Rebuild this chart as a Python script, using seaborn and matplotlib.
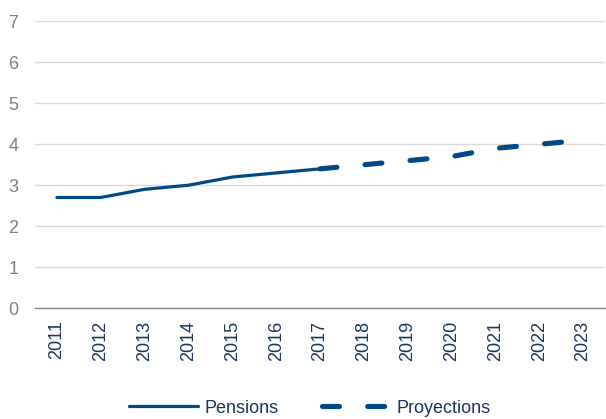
import matplotlib
matplotlib.use("Agg")
import matplotlib.pyplot as plt
import seaborn as sns
import numpy as np
import pandas as pd

years = ["2011", "2012", "2013", "2014", "2015", "2016", "2017",
         "2018", "2019", "2020", "2021", "2022", "2023"]
pensions = [2.7, 2.7, 2.9, 3.0, 3.2, 3.3, 3.4, None, None, None, None, None, None]
projections = [None, None, None, None, None, None, 3.4, 3.5, 3.6, 3.7, 3.9, 4.0, 4.1]
y_ticks = [0, 1, 2, 3, 4, 5, 6, 7]

sns.set_theme(style="white")
plt.rcParams['font.family'] = ['Liberation Sans', 'DejaVu Sans']

df = pd.DataFrame({
    "pos": np.arange(len(years)),
    "Pensions": pd.array(pensions, dtype="Float64").astype(float),
    "Proyections": pd.array(projections, dtype="Float64").astype(float),
})

line_color = "#004987"
navy = "#1B3560"
gray = "#808080"

fig = plt.figure(figsize=(6.06, 4.19), dpi=100)
ax = fig.add_axes([35/606, 1 - 308/419, 570/606, (308 - 21.5)/419])

sns.lineplot(data=df, x="pos", y="Pensions", ax=ax, color=line_color,
             linewidth=2.3, label="Pensions", solid_capstyle="round")
sns.lineplot(data=df, x="pos", y="Proyections", ax=ax, color=line_color,
             linewidth=3.7, label="Proyections", linestyle=(0, (3.3, 5.5)),
             dash_capstyle="round")

ax.set_xlim(-0.5, len(years) - 0.5)
ax.set_ylim(0, 7)
ax.set_yticks(y_ticks)
ax.set_yticklabels([str(t) for t in y_ticks], color=gray, fontsize=13)
ax.tick_params(axis="y", length=0, pad=12)

ax.set_xticks(np.arange(len(years) + 1) - 0.5)
ax.set_xticklabels([])
ax.tick_params(axis="x", which="major", length=4, width=0.8, color="#868686", direction="out")
ax.set_xticks(np.arange(len(years)), minor=True)
ax.set_xticklabels(years, minor=True, rotation=90, color=navy, fontsize=13)
ax.tick_params(axis="x", which="minor", length=0, pad=9)

ax.grid(axis="y", color="#D9D9D9", linewidth=1)
ax.set_axisbelow(True)
for s in ["top", "right", "left"]:
    ax.spines[s].set_visible(False)
ax.spines["bottom"].set_color("#868686")
ax.spines["bottom"].set_linewidth(1)
ax.set_xlabel("")
ax.set_ylabel("")

ax.legend_.remove()
handles, labels = ax.get_legend_handles_labels()
leg = fig.legend(handles, labels, loc="center", bbox_to_anchor=(0.5 + 7/606, 1 - 408/419),
                 ncol=2, frameon=False, fontsize=13, handlelength=3.8,
                 handletextpad=0.35, columnspacing=2.4)
for t in leg.get_texts():
    t.set_color(navy)

fig.savefig("out.png", dpi=100)
